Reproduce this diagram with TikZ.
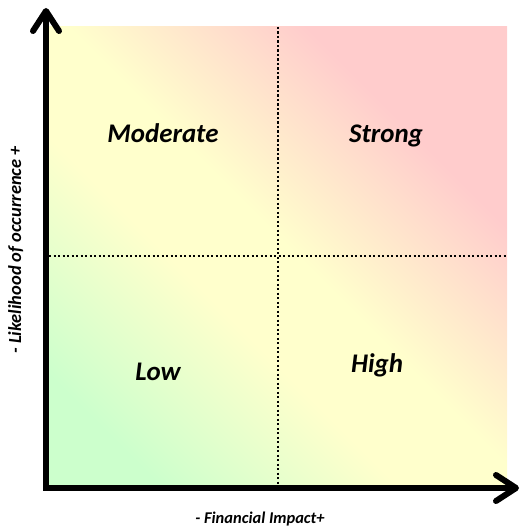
\documentclass[tikz,border=0pt]{standalone}
\usepackage{fontspec}
\setmainfont{Carlito}
\usetikzlibrary{arrows.meta}
\definecolor{qgreen}{RGB}{204,255,204}
\definecolor{qyellow}{RGB}{255,255,204}
\definecolor{qred}{RGB}{255,204,204}
\pgfdeclarehorizontalshading{riskgrad}{100bp}{color(0bp)=(qgreen); color(23bp)=(qgreen); color(41.5bp)=(qyellow); color(51.5bp)=(qyellow); color(70bp)=(qred); color(100bp)=(qred)}
\tikzset{
  quadlabel/.style={font=\fontsize{27}{32}\selectfont\bfseries\itshape, anchor=base, inner sep=0pt},
  axislabel/.style={font=\fontsize{16.5}{19}\selectfont\bfseries\itshape, anchor=base, inner sep=0pt},
  divider/.style={line width=2bp, dash pattern=on 2.2bp off 2.3bp, black},
  axisline/.style={line width=6bp, black, line join=miter,
    {Straight Barb[round,length=20bp,width=26bp]}-{Straight Barb[round,length=20bp,width=26bp]}}
}
\begin{document}
\begin{tikzpicture}[x=1bp,y=-1bp]
\useasboundingbox (0,0) rectangle (520,530);
% square corners and midpoints
\coordinate (TL) at (49,27);
\coordinate (BR) at (507,485);
\coordinate (Tm) at (278,27);
\coordinate (Bm) at (278,485);
\coordinate (Lm) at (49,256);
\coordinate (Rm) at (507,256);
\shade[shading=riskgrad, shading angle=45] (TL) rectangle (BR);
\draw[divider] (Tm) -- (Bm);
\draw[divider] (Lm) -- (Rm);
% axes
\coordinate (O) at (46,488);
\coordinate (Ytip) at (46,8);
\coordinate (Xtip) at (519,488);
\draw[axisline] (Ytip) -- (O) -- (Xtip);
% labels
\node[quadlabel] (moderate) at (163,143) {Moderate};
\node[quadlabel] (strong) at (386,143) {Strong};
\node[quadlabel] (low) at (158,380) {Low};
\node[quadlabel] (high) at (377,372) {High};
\node[axislabel] (xlab) at (260,523) {- Financial Impact+};
\node[axislabel, font=\fontsize{18.5}{22}\selectfont\bfseries\itshape, rotate=90] (ylab) at (21,250) {- Likelihood of occurrence +};
\end{tikzpicture}
\end{document}
